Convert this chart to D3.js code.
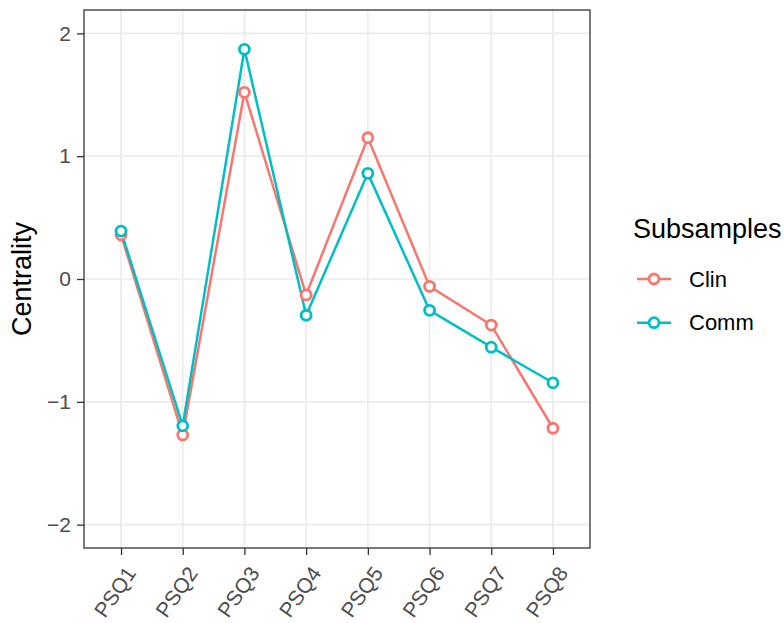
<!DOCTYPE html>
<html lang="en">
  <head>
    <meta charset="UTF-8" />
    <title>Centrality by subsample</title>
    <script src="https://d3js.org/d3.v7.min.js"></script>
    <style>
      body {
        margin: 0;
        background: #fff;
      }
      svg text {
        font-family: "Liberation Sans", Arial, sans-serif;
      }
    </style>
  </head>
  <body>
    <div id="chart"></div>
    <script>
      const items = ["PSQ1", "PSQ2", "PSQ3", "PSQ4", "PSQ5", "PSQ6", "PSQ7", "PSQ8"];
      const clin = [0.36, -1.27, 1.52, -0.13, 1.15, -0.06, -0.375, -1.215];
      const comm = [0.39, -1.195, 1.87, -0.295, 0.86, -0.255, -0.555, -0.845];
      const yTicks = [-2, -1, 0, 1, 2];
      const seriesNames = ["Clin", "Comm"];
      const seriesColors = ["#F8766D", "#00BFC4"];

      const W = 784, H = 623;
      const panel = {left: 84, right: 590, top: 10, bottom: 548};

      const svg = d3.select("#chart").append("svg")
        .attr("width", W)
        .attr("height", H);

      // discrete axis with ggplot's 0.6 expansion on each side
      const x = d3.scalePoint()
        .domain(items)
        .range([panel.left, panel.right])
        .padding(0.6);

      const y = d3.scaleLinear()
        .domain([-2.19, 2.19])
        .range([panel.bottom, panel.top]);

      // panel grid
      svg.append("g")
        .selectAll("line.h")
        .data(yTicks)
        .join("line")
        .attr("x1", panel.left).attr("x2", panel.right)
        .attr("y1", d => y(d)).attr("y2", d => y(d))
        .attr("stroke", "#EBEBEB").attr("stroke-width", 1.6);

      svg.append("g")
        .selectAll("line.v")
        .data(items)
        .join("line")
        .attr("x1", d => x(d)).attr("x2", d => x(d))
        .attr("y1", panel.top).attr("y2", panel.bottom)
        .attr("stroke", "#EBEBEB").attr("stroke-width", 1.6);

      // series
      const series = seriesNames.map((name, i) => ({
        name,
        color: seriesColors[i],
        values: (i === 0 ? clin : comm).map((v, j) => ({item: items[j], v}))
      }));

      const line = d3.line().x(d => x(d.item)).y(d => y(d.v));

      series.forEach(s => {
        svg.append("path")
          .datum(s.values)
          .attr("fill", "none")
          .attr("stroke", s.color)
          .attr("stroke-width", 2.5)
          .attr("d", line);
      });

      series.forEach(s => {
        svg.append("g")
          .selectAll("circle")
          .data(s.values)
          .join("circle")
          .attr("cx", d => x(d.item))
          .attr("cy", d => y(d.v))
          .attr("r", 5)
          .attr("fill", "#fff")
          .attr("stroke", s.color)
          .attr("stroke-width", 2.8);
      });

      // panel border
      svg.append("rect")
        .attr("x", panel.left).attr("y", panel.top)
        .attr("width", panel.right - panel.left)
        .attr("height", panel.bottom - panel.top)
        .attr("fill", "none")
        .attr("stroke", "#333333")
        .attr("stroke-width", 1.3);

      // y axis
      const yAxis = svg.append("g")
        .attr("transform", `translate(${panel.left},0)`)
        .call(d3.axisLeft(y).tickValues(yTicks).tickSize(7).tickPadding(6)
          .tickFormat(d => d < 0 ? "\u2212" + Math.abs(d) : d));
      yAxis.select(".domain").remove();
      yAxis.selectAll(".tick line").attr("stroke", "#333333").attr("stroke-width", 1.3);
      yAxis.selectAll(".tick text")
        .attr("fill", "#4D4D4D")
        .style("font-size", "21px")
        .style("font-family", "'Liberation Sans', Arial, sans-serif");

      // x axis
      const xAxis = svg.append("g")
        .attr("transform", `translate(0,${panel.bottom})`)
        .call(d3.axisBottom(x).tickSize(7).tickFormat(() => ""));
      xAxis.select(".domain").remove();
      xAxis.selectAll(".tick line").attr("stroke", "#333333").attr("stroke-width", 1.3);

      svg.append("g")
        .selectAll("text")
        .data(items)
        .join("text")
        .attr("transform", d => `translate(${x(d) + 10},${panel.bottom + 21}) rotate(-55)`)
        .attr("text-anchor", "end")
        .attr("dy", "0.35em")
        .attr("fill", "#4D4D4D")
        .style("font-size", "21px")
        .text(d => d);

      // y axis title
      svg.append("text")
        .attr("transform", `translate(31,${(panel.top + panel.bottom) / 2}) rotate(-90)`)
        .attr("text-anchor", "middle")
        .attr("fill", "#000")
        .style("font-size", "27px")
        .text("Centrality");

      // legend
      const legend = svg.append("g");
      legend.append("text")
        .attr("x", 633)
        .attr("y", 238)
        .attr("fill", "#000")
        .style("font-size", "27px")
        .text("Subsamples");

      const rowY = [279, 322.7];
      series.forEach((s, i) => {
        const g = legend.append("g").attr("transform", `translate(0,${rowY[i]})`);
        g.append("line")
          .attr("x1", 637).attr("x2", 671)
          .attr("stroke", s.color).attr("stroke-width", 2.5);
        g.append("circle")
          .attr("cx", 654).attr("r", 5)
          .attr("fill", "#fff")
          .attr("stroke", s.color).attr("stroke-width", 2.8);
        g.append("text")
          .attr("x", 689)
          .attr("dy", "0.35em")
          .attr("fill", "#000")
          .style("font-size", "22px")
          .text(s.name);
      });
    </script>
  </body>
</html>
